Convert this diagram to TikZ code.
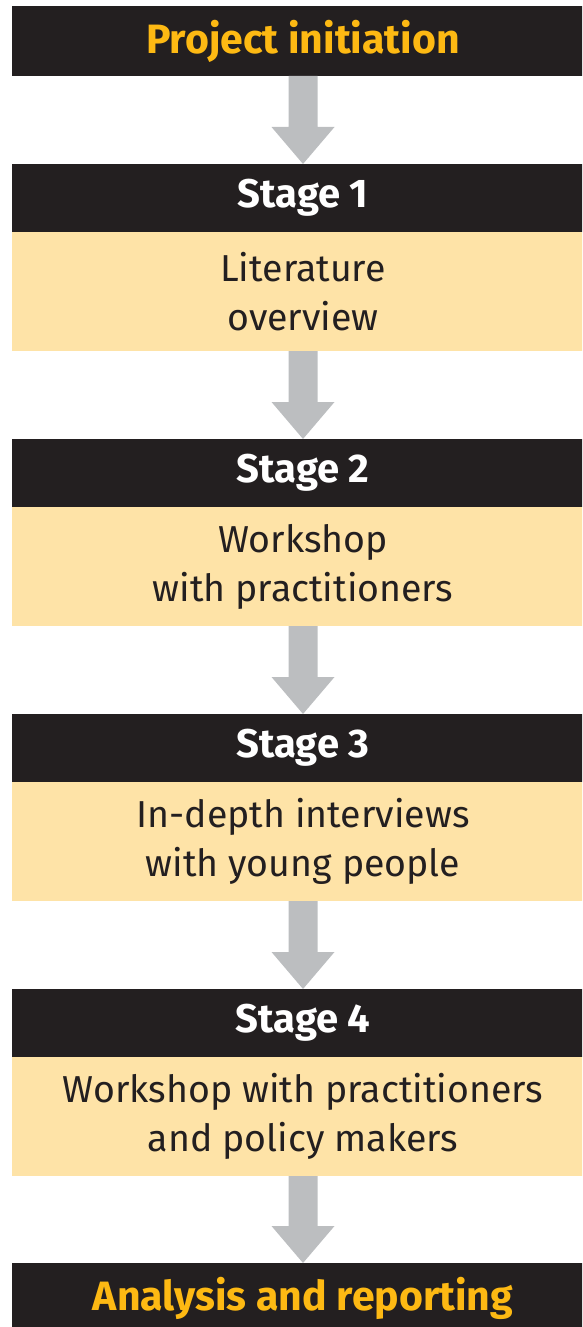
\documentclass[tikz,border=0pt]{standalone}
\usepackage{fontspec}
\setmainfont{Fira Sans}
\usetikzlibrary{calc}
\definecolor{barblack}{HTML}{231F20}
\definecolor{titleyellow}{HTML}{FDB913}
\definecolor{boxyellow}{HTML}{FEE3A7}
\definecolor{arrowgray}{HTML}{BCBEC0}
\tikzset{
    bar/.style = {fill = barblack, minimum width = 620pt, inner sep = 0pt, outer sep = 0pt},
    endbar/.style = {bar, minimum height = 70pt, text = titleyellow, font = \fontsize{41}{44}\selectfont\bfseries},
    stagebar/.style = {bar, minimum height = 68pt, text = white, font = \fontsize{40}{44}\selectfont\bfseries},
    stagebox/.style = {fill = boxyellow, minimum width = 620pt, minimum height = 119pt, inner sep = 0pt, outer sep = 0pt, text = barblack, align = center, font = \fontsize{37.5}{49}\selectfont}
}
\newcommand{\flowarrow}[2]{%
    \fill[arrowgray] ($(#1.south)+(-14.5,0)$) -- ($(#1.south)+(14.5,0)$)
        -- ($(#2.north)+(14.5,-37)$) -- ($(#2.north)+(31.5,-37)$) -- (#2.north)
        -- ($(#2.north)+(-31.5,-37)$) -- ($(#2.north)+(-14.5,-37)$) -- cycle;}
\begin{document}
\begin{tikzpicture}[x = 1pt, y = -1pt]
                \useasboundingbox (0,0) rectangle (582,1327);
                \clip (12,0) rectangle (582,1327);
                \node[endbar] (init) at (303,41) {Project initiation};
                \node[stagebar] (s1h) at (303,198) {Stage 1};
                \node[stagebox] (s1b) at (303,291.5) {Literature\\overview};
                \node[stagebar] (s2h) at (303,473) {Stage 2};
                \node[stagebox] (s2b) at (303,566.5) {Workshop\\with practitioners};
                \node[stagebar] (s3h) at (303,748) {Stage 3};
                \node[stagebox] (s3b) at (303,841.5) {In-depth interviews\\with young people};
                \node[stagebar] (s4h) at (303,1023) {Stage 4};
                \node[stagebox] (s4b) at (303,1116.5) {Workshop with practitioners\\and policy makers};
                \node[endbar] (report) at (303,1298) {Analysis and reporting};
                \foreach \a/\b in {init/s1h, s1b/s2h, s2b/s3h, s3b/s4h, s4b/report}
                    \flowarrow{\a}{\b};
            \end{tikzpicture}
\end{document}
